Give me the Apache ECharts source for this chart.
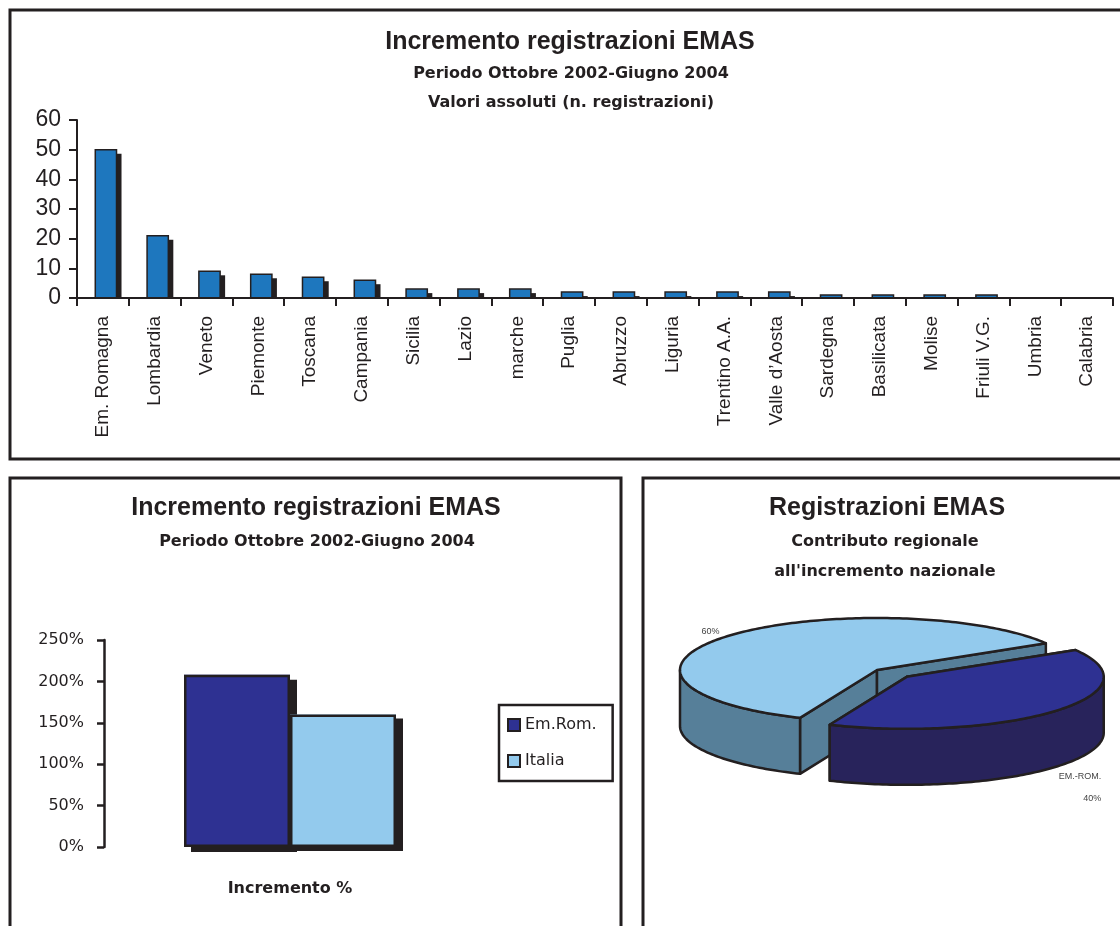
<!DOCTYPE html>
<html>
<head>
<meta charset="utf-8">
<title>Incremento registrazioni EMAS</title>
<script src="https://cdn.jsdelivr.net/npm/echarts@6/dist/echarts.min.js"></script>
<style>
  html, body { margin: 0; padding: 0; background: #fff; }
  #chart { width: 1120px; height: 926px; }
</style>
</head>
<body>
<div id="chart"></div>
<script>
// 1. grafico in alto: registrazioni per regione (valori assoluti)
var regioni = ['Em. Romagna', 'Lombardia', 'Veneto', 'Piemonte', 'Toscana', 'Campania', 'Sicilia', 'Lazio',
  'marche', 'Puglia', 'Abruzzo', 'Liguria', 'Trentino A.A.', 'Valle d\u2019Aosta', 'Sardegna', 'Basilicata',
  'Molise', 'Friuli V.G.', 'Umbria', 'Calabria'];
var registrazioni = [50, 21, 9, 8, 7, 6, 3, 3, 3, 2, 2, 2, 2, 2, 1, 1, 1, 1, 0, 0];
var assolutiMax = 60;
var assolutiPasso = 10;

// 2. grafico in basso a sinistra: incremento %
var incrementoCat = ['Incremento %'];
var incrementoEmRom = [208];
var incrementoItalia = [160];
var percMax = 250;
var percPasso = 50;

// 3. torta: contributo regionale all'incremento nazionale
var contributoNomi = ['', 'EM.-ROM.'];
var contributoValori = [60, 40];

var ink = '#231f20';
var fontTitolo = 'bold 25px "Liberation Sans", Arial, sans-serif';
var fontSotto = 'bold 16px "DejaVu Sans", sans-serif';

// barre in alto: colonna con ombra piatta, l'ombra si ferma sull'asse
function renderBarra(params, api) {
  var top = api.coord([api.value(0), api.value(1)]);
  var base = api.coord([api.value(0), 0]);
  var w = api.size([1, 0])[0] * 0.41;
  var x = top[0] - w / 2 + 3;
  var h = base[1] - top[1];
  var children = [];
  if (h > 4) {
    children.push({ type: 'rect', shape: { x: x + 5, y: top[1] + 4, width: w, height: h - 4 }, style: { fill: ink } });
  }
  if (h > 0) {
    children.push({ type: 'rect', shape: { x: x, y: top[1], width: w, height: h },
      style: { fill: '#1e77be', stroke: ink, lineWidth: 1.5 } });
  }
  return { type: 'group', children: children };
}

// torta "3D": ellisse, spessore, esplosione
var torta = { cx: 877, cy: 670, rx: 197, ry: 52, depth: 56, start: 113 };
var tortaEsplodi = [0, 0.2];
var tortaSopra = ['#93caed', '#2e3192'];
var tortaLato = ['#567f99', '#28235b'];

function renderTorta(params, api) {
  var i = params.dataIndex;
  var total = contributoValori.reduce(function (s, v) { return s + v; }, 0);
  var a0 = torta.start * Math.PI / 180;
  for (var k = 0; k < i; k++) a0 += contributoValori[k] / total * 2 * Math.PI;
  var a1 = a0 + api.value(0) / total * 2 * Math.PI;
  var mid = (a0 + a1) / 2;
  var cx = torta.cx + tortaEsplodi[i] * torta.rx * Math.cos(mid);
  var cy = torta.cy + tortaEsplodi[i] * torta.ry * Math.sin(mid);

  function pt(t, dy) {
    return [cx + torta.rx * Math.cos(t), cy + torta.ry * Math.sin(t) + dy];
  }
  function arco(from, to, dy) {
    var pts = [];
    var n = Math.max(2, Math.ceil((to - from) / 0.02));
    for (var j = 0; j <= n; j++) pts.push(pt(from + (to - from) * j / n, dy));
    return pts;
  }
  function stile(fill) {
    return { fill: fill, stroke: ink, lineWidth: 2.5, lineJoin: 'round' };
  }

  var children = [];
  // facce di taglio
  [a0, a1].forEach(function (a) {
    var p = pt(a, 0);
    children.push({
      type: 'polygon',
      shape: { points: [[cx, cy], p, [p[0], p[1] + torta.depth], [cx, cy + torta.depth]] },
      style: stile(tortaLato[i])
    });
  });
  // parete esterna (solo la metà davanti)
  [0, 2 * Math.PI].forEach(function (k) {
    var lo = Math.max(a0, k), hi = Math.min(a1, k + Math.PI);
    if (lo < hi) {
      children.push({
        type: 'polygon',
        shape: { points: arco(lo, hi, 0).concat(arco(lo, hi, torta.depth).reverse()) },
        style: stile(tortaLato[i])
      });
    }
  });
  // faccia superiore
  children.push({
    type: 'polygon',
    shape: { points: [[cx, cy]].concat(arco(a0, a1, 0)) },
    style: stile(tortaSopra[i])
  });
  // etichetta
  var pct = Math.round(api.value(0) / total * 100) + '%';
  var nome = contributoNomi[i];
  var lx = cx + 1.12 * torta.rx * Math.cos(mid);
  var ly = cy + 1.12 * torta.ry * Math.sin(mid);
  var davanti = Math.sin(mid) > 0;
  children.push({
    type: 'text',
    x: davanti ? lx + 28 : lx,
    y: davanti ? ly + torta.depth : ly,
    style: {
      text: (nome ? nome + '\n\n' : '') + pct,
      font: '9px "Liberation Sans", Arial, sans-serif',
      fill: '#444',
      lineHeight: 11,
      align: davanti ? 'right' : 'center',
      verticalAlign: davanti ? 'top' : 'middle'
    }
  });
  return { type: 'group', children: children };
}

function testo(t, x, y, font) {
  return { type: 'text', x: x, y: y, style: { text: t, font: font, fill: ink, align: 'center', verticalAlign: 'middle' } };
}
function cornice(x, y, w, h) {
  return { type: 'rect', shape: { x: x, y: y, width: w, height: h }, style: { fill: 'none', stroke: ink, lineWidth: 3 } };
}

// barra piena con ombra (senza bordo) + barra solo bordo sopra
function barraPiena(name, data, color, width, dx, dy, xi, yi) {
  return {
    name: name, type: 'bar', xAxisIndex: xi, yAxisIndex: yi, data: data,
    barWidth: width, barGap: '0%', z: 2,
    itemStyle: { color: color, borderWidth: 0, shadowColor: ink, shadowBlur: 0, shadowOffsetX: dx, shadowOffsetY: dy }
  };
}
function barraBordo(name, data, width, lw, xi, yi) {
  return {
    name: name, type: 'bar', xAxisIndex: xi, yAxisIndex: yi, data: data,
    barWidth: width, barGap: '0%', z: 3, silent: true,
    itemStyle: { color: 'rgba(0,0,0,0)', borderColor: ink, borderWidth: lw }
  };
}

var chart = echarts.init(document.getElementById('chart'));

var option = {
  backgroundColor: '#fff',
  animation: false,
  textStyle: { fontFamily: '"Liberation Sans", Arial, sans-serif', color: ink },
  graphic: [
    cornice(10, 10, 1130, 449),
    cornice(10, 478, 611, 470),
    cornice(643, 478, 500, 470),
    testo('Incremento registrazioni EMAS', 570, 42, fontTitolo),
    testo('Periodo Ottobre 2002-Giugno 2004', 571, 74, fontSotto),
    testo('Valori assoluti (n. registrazioni)', 571, 103, fontSotto),
    testo('Incremento registrazioni EMAS', 316, 508, fontTitolo),
    testo('Periodo Ottobre 2002-Giugno 2004', 317, 542, fontSotto),
    testo('Registrazioni EMAS', 887, 508, fontTitolo),
    testo('Contributo regionale', 885, 542, fontSotto),
    testo('all\'incremento nazionale', 885, 572, fontSotto)
  ],
  legend: {
    data: ['Em.Rom.', 'Italia'],
    orient: 'vertical',
    left: 499,
    top: 705,
    padding: [12, 16, 12, 8],
    itemWidth: 12,
    itemHeight: 12,
    itemGap: 20,
    borderColor: ink,
    borderWidth: 2.5,
    icon: 'rect',
    itemStyle: { borderColor: ink, borderWidth: 2, shadowColor: 'transparent', shadowOffsetX: 0, shadowOffsetY: 0 },
    textStyle: { fontFamily: '"DejaVu Sans", sans-serif', fontSize: 16, color: ink }
  },
  grid: [
    { left: 77, right: 7, top: 120, bottom: 628 },
    { left: 104, right: 644, top: 640, bottom: 79 },
    { left: 104, right: 644, top: 640, bottom: 79 }
  ],
  xAxis: [
    {
      type: 'category',
      gridIndex: 0,
      data: regioni,
      z: 5,
      axisLine: { show: true, lineStyle: { color: ink, width: 2 } },
      axisTick: { show: true, alignWithLabel: false, interval: 0, length: 8, lineStyle: { color: ink, width: 2 } },
      axisLabel: { rotate: 90, interval: 0, margin: 18, fontSize: 19, color: ink }
    },
    {
      type: 'category',
      gridIndex: 1,
      data: incrementoCat,
      axisLine: { show: false },
      axisTick: { show: false },
      axisLabel: { margin: 34, fontSize: 16, fontWeight: 'bold', fontFamily: '"DejaVu Sans", sans-serif', color: ink }
    },
    { type: 'category', gridIndex: 2, data: incrementoCat, show: false }
  ],
  yAxis: [
    {
      type: 'value',
      gridIndex: 0,
      min: 0,
      max: assolutiMax,
      interval: assolutiPasso,
      z: 5,
      splitLine: { show: false },
      axisLine: { show: true, lineStyle: { color: ink, width: 2 } },
      axisTick: { show: true, length: 8, lineStyle: { color: ink, width: 2 } },
      axisLabel: { margin: 16, fontSize: 23, color: ink }
    },
    {
      type: 'value',
      gridIndex: 1,
      min: 0,
      max: percMax,
      interval: percPasso,
      splitLine: { show: false },
      axisLine: { show: true, lineStyle: { color: ink, width: 2.5 } },
      axisTick: { show: true, length: 7, lineStyle: { color: ink, width: 2.5 } },
      axisLabel: { margin: 20, fontSize: 16, fontFamily: '"DejaVu Sans", sans-serif', color: ink, formatter: '{value}%' }
    },
    { type: 'value', gridIndex: 2, min: 0, max: percMax, interval: percPasso, show: false }
  ],
  series: [
    {
      name: 'Registrazioni',
      type: 'custom',
      xAxisIndex: 0,
      yAxisIndex: 0,
      renderItem: renderBarra,
      encode: { x: 0, y: 1 },
      data: regioni.map(function (r, i) { return [r, registrazioni[i]]; })
    },
    barraPiena('Em.Rom.', incrementoEmRom, '#2e3192', 106, 7, 5, 1, 1),
    barraPiena('Italia', incrementoItalia, '#93caed', 106, 7, 4, 1, 1),
    barraBordo('Em.Rom. (bordo)', incrementoEmRom, 106, 2.5, 2, 2),
    barraBordo('Italia (bordo)', incrementoItalia, 106, 2.5, 2, 2),
    {
      name: 'Contributo regionale',
      type: 'custom',
      coordinateSystem: 'none',
      renderItem: renderTorta,
      data: contributoValori.map(function (v) { return [v]; })
    }
  ]
};

chart.setOption(option);
</script>
</body>
</html>
